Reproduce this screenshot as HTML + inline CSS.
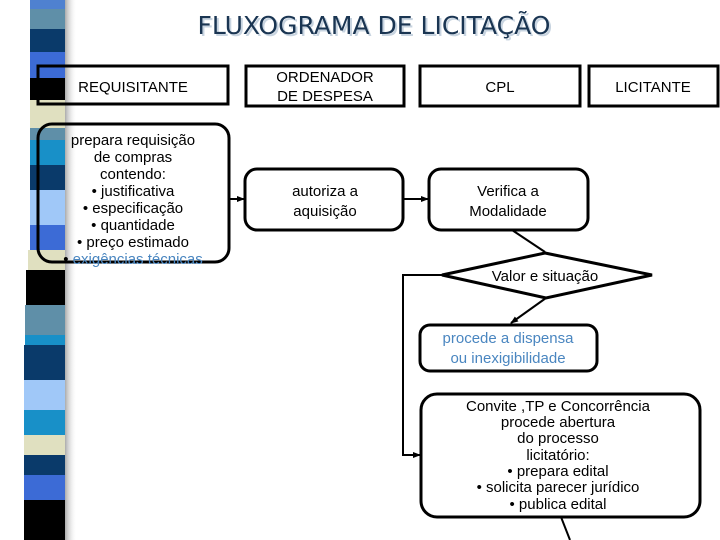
<!DOCTYPE html>
<html><head><meta charset="utf-8"><style>
html,body{margin:0;padding:0;background:#fff;}
svg{display:block;}
text{font-family:"Liberation Sans",sans-serif;font-size:15px;fill:#000;}
</style></head><body>
<svg width="720" height="540" viewBox="0 0 720 540" xmlns="http://www.w3.org/2000/svg">
<defs>
<linearGradient id="sh" x1="0" x2="1" y1="0" y2="0">
<stop offset="0" stop-color="#888" stop-opacity="0.7"/><stop offset="1" stop-color="#fff" stop-opacity="0"/>
</linearGradient>
<marker id="ar" markerWidth="8" markerHeight="8" refX="7" refY="4" orient="auto" markerUnits="userSpaceOnUse">
<path d="M0,1 L8,4 L0,7 z" fill="#000"/></marker>
</defs>
<rect x="65" y="0" width="12" height="540" fill="url(#sh)"/>
<g>
<rect x="30" y="0" width="35" height="9" fill="#4f81d0"/>
<rect x="30" y="9" width="35" height="20" fill="#5f8fa8"/>
<rect x="30" y="29" width="35" height="23" fill="#0a3a6a"/>
<rect x="30" y="52" width="35" height="26" fill="#3c6bd6"/>
<rect x="30" y="78" width="35" height="22" fill="#000"/>
<rect x="30" y="100" width="35" height="28" fill="#e0e0c0"/>
<rect x="30" y="128" width="35" height="12" fill="#5f8fa8"/>
<rect x="30" y="140" width="35" height="25" fill="#1890c8"/>
<rect x="30" y="165" width="35" height="25" fill="#0a3a6a"/>
<rect x="30" y="190" width="35" height="35" fill="#a0c8f8"/>
<rect x="30" y="225" width="35" height="25" fill="#3c6bd6"/>
<rect x="28" y="250" width="37" height="20" fill="#e0e0c0"/>
<rect x="26" y="270" width="39" height="35" fill="#000"/>
<rect x="25" y="305" width="40" height="30" fill="#5f8fa8"/>
<rect x="25" y="335" width="40" height="10" fill="#1890c8"/>
<rect x="24" y="345" width="41" height="35" fill="#0a3a6a"/>
<rect x="24" y="380" width="41" height="30" fill="#a0c8f8"/>
<rect x="24" y="410" width="41" height="25" fill="#1890c8"/>
<rect x="24" y="435" width="41" height="20" fill="#e0e0c0"/>
<rect x="24" y="455" width="41" height="20" fill="#0a3a6a"/>
<rect x="24" y="475" width="41" height="25" fill="#3c6bd6"/>
<rect x="24" y="500" width="41" height="40" fill="#000"/>
</g>
<text x="376" y="36" text-anchor="middle" style="font-family:'DejaVu Sans',sans-serif;font-size:25px;fill:#c8d4e0">FLUXOGRAMA DE LICITAÇÃO</text>
<text x="374" y="34" text-anchor="middle" style="font-family:'DejaVu Sans',sans-serif;font-size:25px;fill:#1a3552">FLUXOGRAMA DE LICITAÇÃO</text>
<g fill="none" stroke="#000" stroke-width="3">
<rect x="38" y="66" width="190" height="38"/>
<rect x="246" y="66" width="158" height="40"/>
<rect x="420" y="66" width="160" height="40"/>
<rect x="589" y="66" width="129" height="40"/>
<rect x="38" y="124" width="191" height="138" rx="14"/>
<rect x="245" y="169" width="158" height="61" rx="12"/>
<rect x="429" y="169" width="159" height="61" rx="12"/>
<polygon points="545,253 652,275 546,298 442,275"/>
<rect x="420" y="325" width="177" height="46" rx="10"/>
<rect x="421" y="394" width="279" height="123" rx="16"/>
</g>
<g fill="none" stroke="#000" stroke-width="2">
<line x1="229" y1="199" x2="244" y2="199" marker-end="url(#ar)"/>
<line x1="403" y1="199" x2="428" y2="199" marker-end="url(#ar)"/>
<line x1="512" y1="230" x2="545" y2="252"/>
<line x1="546" y1="298" x2="511" y2="323" marker-end="url(#ar)"/>
<polyline points="442,275 403,275 403,455 420,455" marker-end="url(#ar)"/>
<line x1="561" y1="517" x2="570" y2="540"/>
</g>
<g text-anchor="middle">
<text x="133" y="92">REQUISITANTE</text>
<text x="325" y="82">ORDENADOR</text>
<text x="325" y="101">DE DESPESA</text>
<text x="500" y="92">CPL</text>
<text x="653" y="92">LICITANTE</text>
<text x="133" y="145">prepara requisição</text>
<text x="133" y="162">de compras</text>
<text x="133" y="179">contendo:</text>
<text x="133" y="196">• justificativa</text>
<text x="133" y="213">• especificação</text>
<text x="133" y="230">• quantidade</text>
<text x="133" y="247">• preço estimado</text>
<text x="133" y="264">• <tspan fill="#4a86c0">exigências técnicas</tspan></text>
<text x="325" y="196">autoriza a</text>
<text x="325" y="216">aquisição</text>
<text x="508" y="196">Verifica a</text>
<text x="508" y="216">Modalidade</text>
<text x="545" y="281">Valor e situação</text>
<text x="508" y="343" fill="#4a86c0" style="fill:#4a86c0">procede a dispensa</text>
<text x="508" y="363" style="fill:#4a86c0">ou inexigibilidade</text>
<text x="558" y="411">Convite ,TP e Concorrência</text>
<text x="558" y="427">procede abertura</text>
<text x="558" y="443">do processo</text>
<text x="558" y="460">licitatório:</text>
<text x="558" y="476">• prepara edital</text>
<text x="558" y="492">• solicita parecer jurídico</text>
<text x="558" y="509">• publica edital</text>
</g>
</svg>
</body></html>
